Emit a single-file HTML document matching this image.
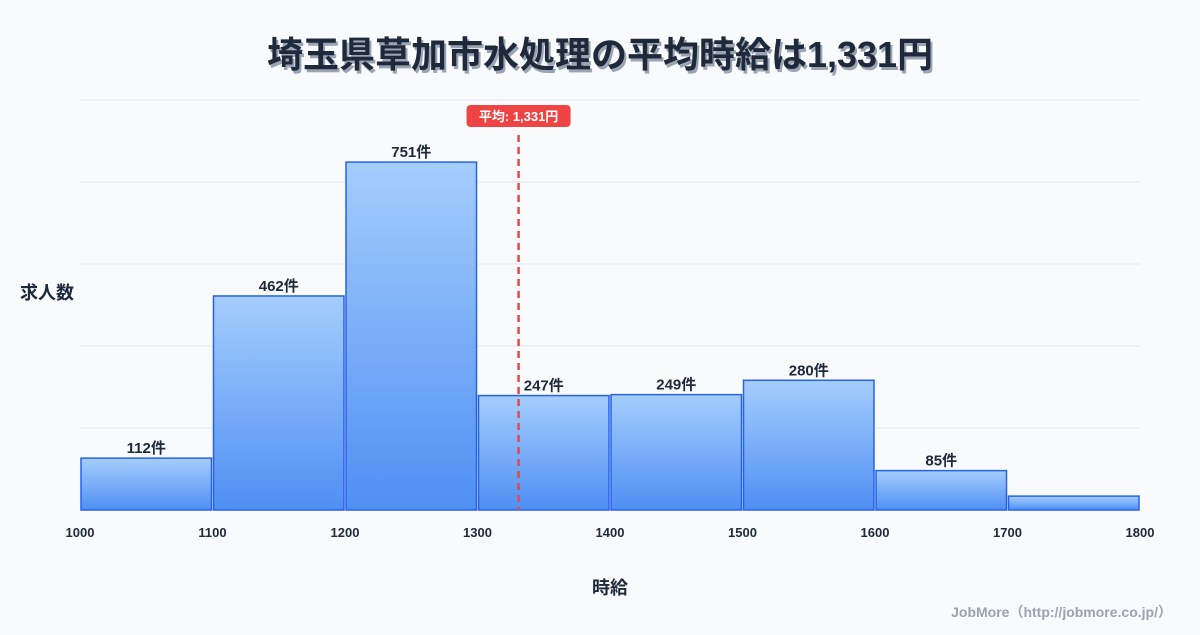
<!DOCTYPE html>
<html><head><meta charset="utf-8"><style>
body{margin:0;width:1200px;height:630px;background:#f8fafc;font-family:"Liberation Sans","Noto Sans CJK JP",sans-serif;overflow:hidden}
svg text{font-family:"Liberation Sans","Noto Sans CJK JP",sans-serif}
</style></head><body>
<svg id="c" width="1200" height="630">
<defs><linearGradient id="g" x1="0" y1="0" x2="0" y2="1"><stop offset="0" stop-color="#a5cdfd"/><stop offset="1" stop-color="#4f8ff3"/></linearGradient></defs>
<text x="600" y="67" text-anchor="middle" font-size="36" font-weight="bold" fill="#9aa4b2" transform="translate(2,3)">埼玉県草加市水処理の平均時給は1,331円</text>
<text x="600" y="67" text-anchor="middle" font-size="36" font-weight="bold" fill="#1e293b">埼玉県草加市水処理の平均時給は1,331円</text>
<g id="grid"></g><g id="bars"></g><g id="xt"></g>
<text x="20" y="299" font-size="18" font-weight="bold" fill="#1e293b">求人数</text>
<text x="610" y="594" text-anchor="middle" font-size="18" font-weight="bold" fill="#1e293b">時給</text>
<text x="1172" y="617" text-anchor="end" font-size="14" font-weight="bold" fill="#9ca3af">JobMore（http://jobmore.co.jp/）</text>
<g id="mean"></g>
</svg>
<script>
const edges=[1000,1100,1200,1300,1400,1500,1600,1700,1800];
const counts=[112,462,751,247,249,280,85,30];
const showLabel=[true,true,true,true,true,true,true,false];
const meanValue=1331;
const yMax=885;
const NS="http://www.w3.org/2000/svg";
const X=v=>80+(v-1000)*(1060/800), Y=v=>510-v*(410/yMax);
function mk(p,t,a,txt){const e=document.createElementNS(NS,t);for(const k in a)e.setAttribute(k,a[k]);if(txt!=null)e.textContent=txt;document.getElementById(p).appendChild(e);return e;}
for(let i=0;i<=5;i++){const y=Y(yMax*i/5);const l=mk('grid','line',{x1:80,x2:1140,y1:y,y2:y,stroke:'#e5e7eb','stroke-width':1});

}
counts.forEach((c,i)=>{const x0=X(edges[i])+1,x1=X(edges[i+1])-1;
const r=mk('bars','rect',{x:x0,y:Y(c),width:x1-x0,height:510-Y(c),fill:'url(#g)',stroke:'#2563eb','stroke-width':1.5});


if(showLabel[i]){const t=mk('bars','text',{x:(x0+x1)/2,y:Y(c)-5,'text-anchor':'middle','font-size':15,'font-weight':'bold',fill:'#1e293b'},c+'件');

}});
edges.forEach(e=>{const t=mk('xt','text',{x:X(e),y:537,'text-anchor':'middle','font-size':13,'font-weight':'bold',fill:'#1e293b'},e);

});
const mx=X(meanValue);
const ml=mk('mean','line',{x1:mx,x2:mx,y1:135,y2:510,stroke:'#ef4444','stroke-width':2.5,'stroke-dasharray':'7,5'});


const mb=mk('mean','rect',{x:mx-52,y:105,width:104,height:22,rx:4,fill:'#ef4444'});


const mt=mk('mean','text',{x:mx,y:121,'text-anchor':'middle','font-size':13,'font-weight':'bold',fill:'#fff'},'平均: 1,331円');


</script>
</body></html>
